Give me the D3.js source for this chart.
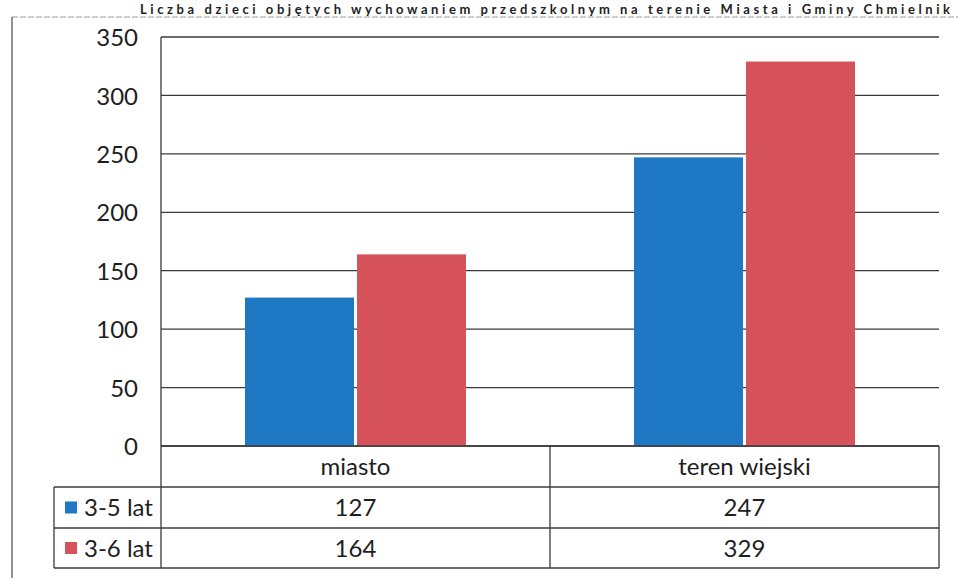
<!DOCTYPE html>
<html>
<head>
<meta charset="utf-8">
<script src="https://cdn.jsdelivr.net/npm/d3@7"></script>
<style>
  html, body { margin: 0; padding: 0; background: #fff; }
  svg { display: block; }
  text { font-family: Lato, "Open Sans", sans-serif; fill: #1e1e1e; }
</style>
</head>
<body>
<svg id="chart" width="958" height="578"></svg>
<script>
const categories = ["miasto", "teren wiejski"];
const seriesNames = ["3-5 lat", "3-6 lat"];
const series35 = [127, 247];
const series36 = [164, 329];
const yTicks = [0, 50, 100, 150, 200, 250, 300, 350];
const titleText = "Liczba dzieci objętych wychowaniem przedszkolnym na terenie Miasta i Gminy Chmielnik";

const colors = ["#1f78c4", "#d6535c"];
const seriesValues = [series35, series36];

const svg = d3.select("#chart");
const W = 958, H = 578;
const plotLeft = 161, plotRight = 939, plotTop = 37, plotBottom = 446;
const rowLines = [446, 487, 528, 568];
const legendLeft = 54;
const lineColor = "#3a3a3a";

// Frame of the scanned page
svg.append("line").attr("x1", 12).attr("x2", W).attr("y1", 17).attr("y2", 17)
  .attr("stroke", "#9a9a9a").attr("stroke-width", 1.2).attr("stroke-dasharray", "6,2");
svg.append("line").attr("x1", 12).attr("x2", 12).attr("y1", 17).attr("y2", H)
  .attr("stroke", "#555").attr("stroke-width", 1.3);

// Title (the reference shows it cropped at the top of the scan)
svg.append("text").attr("x", 140).attr("y", 14)
  .attr("textLength", 810).attr("lengthAdjust", "spacing")
  .style("font-size", "13px").style("font-weight", "bold").text(titleText);

const y = d3.scaleLinear().domain([0, 350]).range([plotBottom, plotTop]);
const x0 = d3.scaleBand().domain(categories).range([plotLeft, plotRight]).padding(0);
const x1 = d3.scaleBand().domain(seriesNames).range([0, x0.bandwidth()])
  .paddingInner(0.027).paddingOuter(0.75);

// Gridlines
svg.append("g").selectAll("line").data(yTicks).join("line")
  .attr("x1", plotLeft).attr("x2", plotRight)
  .attr("y1", d => y(d)).attr("y2", d => y(d))
  .attr("stroke", lineColor).attr("stroke-width", 1.3);

// Y axis tick labels
const yAxis = d3.axisLeft(y).tickValues(yTicks).tickSize(0).tickPadding(0);
const gy = svg.append("g").attr("transform", `translate(138,0)`).call(yAxis);
gy.select(".domain").remove();
gy.selectAll("text").style("font-size", "24px").style("font-family", "Lato, sans-serif")
  .attr("fill", "#1e1e1e").attr("dy", "0.36em");

// Bars
const groups = svg.append("g").selectAll("g").data(categories).join("g")
  .attr("transform", d => `translate(${x0(d)},0)`);
groups.selectAll("rect").data((c, ci) => seriesNames.map((s, si) => ({ s, v: seriesValues[si][ci], si })))
  .join("rect")
  .attr("x", d => x1(d.s)).attr("width", x1.bandwidth())
  .attr("y", d => y(d.v)).attr("height", d => y(0) - y(d.v))
  .attr("fill", d => colors[d.si]);

// Table lines
const tl = svg.append("g").attr("stroke", lineColor).attr("stroke-width", 1.3);
tl.append("line").attr("x1", plotLeft).attr("x2", plotLeft).attr("y1", plotTop).attr("y2", rowLines[3]);
tl.append("line").attr("x1", plotLeft).attr("x2", plotRight).attr("y1", rowLines[0]).attr("y2", rowLines[0]);
[1, 2, 3].forEach(i => {
  tl.append("line").attr("x1", legendLeft).attr("x2", plotRight).attr("y1", rowLines[i]).attr("y2", rowLines[i]);
});
tl.append("line").attr("x1", legendLeft).attr("x2", legendLeft).attr("y1", rowLines[1]).attr("y2", rowLines[3]);
categories.forEach(c => {
  const xr = x0(c) + x0.bandwidth();
  tl.append("line").attr("x1", xr).attr("x2", xr).attr("y1", rowLines[0]).attr("y2", rowLines[3]);
});

// Header labels
svg.append("g").selectAll("text").data(categories).join("text")
  .attr("x", d => x0(d) + x0.bandwidth() / 2)
  .attr("y", (rowLines[0] + rowLines[1]) / 2)
  .attr("dy", "0.36em").attr("text-anchor", "middle")
  .style("font-size", "24px").text(d => d);

// Value rows
seriesNames.forEach((s, si) => {
  const cy = (rowLines[si + 1] + rowLines[si + 2]) / 2;
  svg.append("rect").attr("x", 65).attr("y", cy - 6).attr("width", 12).attr("height", 12)
    .attr("fill", colors[si]);
  svg.append("text").attr("x", 84).attr("y", cy).attr("dy", "0.36em")
    .style("font-size", "24px").text(s);
  svg.append("g").selectAll("text").data(categories).join("text")
    .attr("x", d => x0(d) + x0.bandwidth() / 2)
    .attr("y", cy).attr("dy", "0.36em").attr("text-anchor", "middle")
    .style("font-size", "24px").text((d, ci) => seriesValues[si][ci]);
});
</script>
</body>
</html>
